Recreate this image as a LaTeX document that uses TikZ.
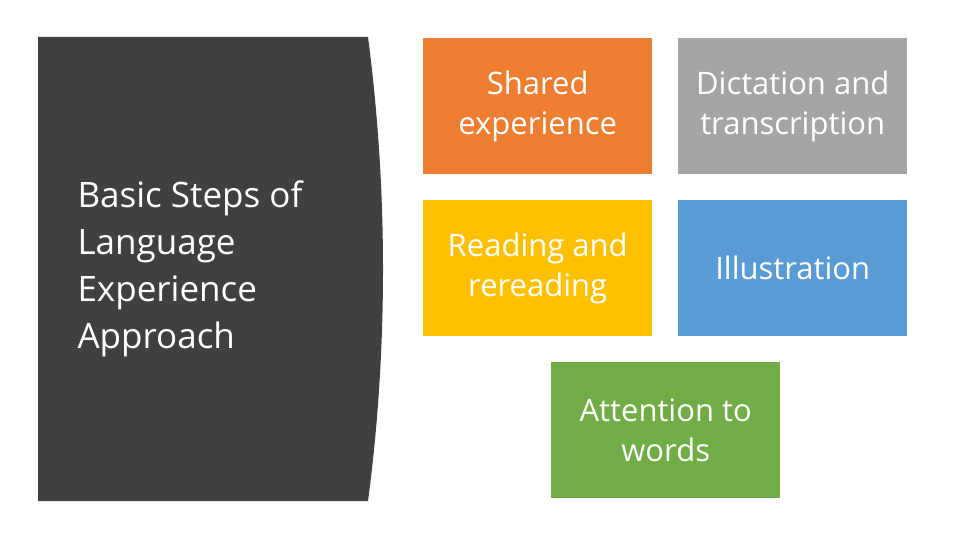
\documentclass[tikz,border=0pt]{standalone}
\usepackage{fontspec}
\setmainfont{Open Sans}
\definecolor{dark}{HTML}{404040}
\definecolor{c1}{HTML}{ED7D31}
\definecolor{c2}{HTML}{A5A5A5}
\definecolor{c3}{HTML}{FFC000}
\definecolor{c4}{HTML}{5B9BD5}
\definecolor{c5}{HTML}{70AD47}
\tikzset{tile/.style={minimum width=229pt,minimum height=136pt,inner sep=0pt,anchor=north west,text=white,align=center,font=\fontsize{31}{40}\selectfont}}
\begin{document}
\begin{tikzpicture}[x=1pt,y=-1pt]
\useasboundingbox[fill=white] (0,0) rectangle (960,540);
\fill[dark] (38,37) -- (368,37) .. controls (388,190) and (388,350) .. (368,501) -- (38,501) -- cycle;
\node[anchor=west,text=white,align=left,font=\fontsize{35}{47}\selectfont] (title) at (74,269) {Basic Steps of\\Language\\Experience\\Approach};
\node[tile,fill=c1] (a) at (423,38) {Shared\\experience};
\node[tile,fill=c2] (b) at (678,38) {Dictation and\\transcription};
\node[tile,fill=c3] (c) at (423,200) {Reading and\\rereading};
\node[tile,fill=c4] (d) at (678,200) {Illustration};
\node[tile,fill=c5] (e) at (551,362) {Attention to\\words};
\end{tikzpicture}
\end{document}
